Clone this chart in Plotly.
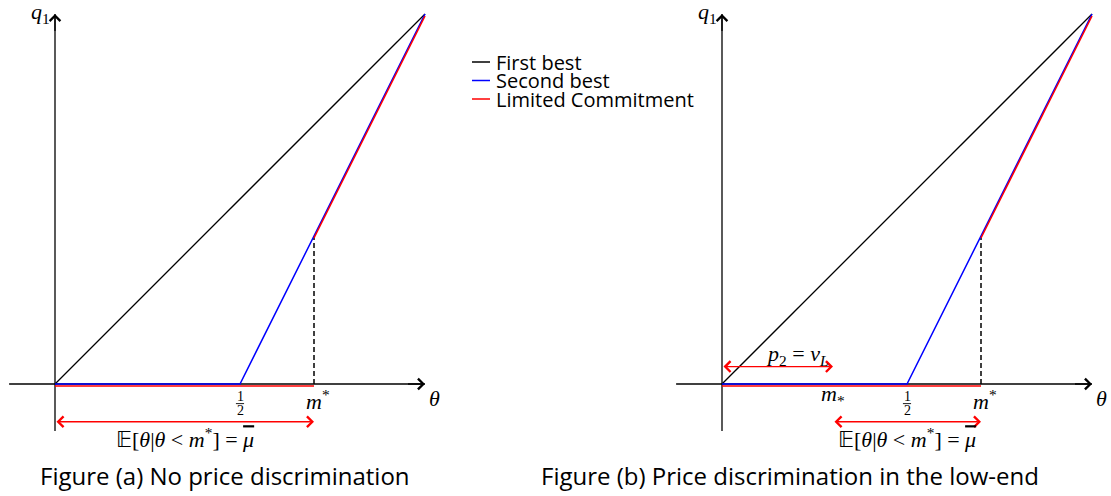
import plotly.graph_objects as go

# ---------------- data ----------------
theta_fb = [0.0, 1.0]
q_fb = [0.0, 1.0]
theta_sb = [0.0, 0.5, 1.0]
q_sb = [0.0, 0.0, 1.0]
theta_lc = [0.0, 0.7, None, 0.7, 1.0]
q_lc = [0.0, 0.0, None, 0.4, 1.0]
half = 0.5
m_star = 0.7        # m^*
m_low = 0.3         # m_*
q_at_mstar = 0.4
arrow_level = -0.102   # E[theta | theta < m*] arrow height
p2_level = 0.047       # p2 = v_L arrow height
series_names = ["First best", "Second best", "Limited Commitment"]
series_colors = ["#000000", "#0000ff", "#ff0000"]
captions = ["Figure (a) No price discrimination", "Figure (b) Price discrimination in the low-end"]

# ---------------- layout geometry ----------------
W, H = 1111, 496
unit = 370.0
ox_a, ox_b, oy = 55.0, 722.0, 384.0
dom_a, dom_b = [0.0, 0.45], [0.55, 1.0]

def xrange_for(dom, ox):
    p0, p1 = dom[0] * W, dom[1] * W
    r0 = -(ox - p0) / unit
    return [r0, r0 + (p1 - p0) / unit]

yr = [-(H - oy) / unit, oy / unit]
shift = 2.0 / unit
yr_red = [yr[0] + shift, yr[1] + shift]

MATH = "Liberation Serif"
SANS = "Open Sans"

fig = go.Figure()

def add_panel(xa, ya, ya_red):
    fig.add_trace(go.Scatter(x=[-0.124, 1.0], y=[0, 0], mode="lines", line=dict(color="black", width=1.3),
                             xaxis=xa, yaxis=ya, showlegend=False, hoverinfo="skip"))
    fig.add_trace(go.Scatter(x=[0, 0], y=[-0.127, 1.0], mode="lines", line=dict(color="black", width=1.3),
                             xaxis=xa, yaxis=ya, showlegend=False, hoverinfo="skip"))
    fig.add_trace(go.Scatter(x=[m_star, m_star], y=[0, q_at_mstar], mode="lines",
                             line=dict(color="black", width=1.5, dash="5px,3px"),
                             xaxis=xa, yaxis=ya, showlegend=False, hoverinfo="skip"))
    fig.add_trace(go.Scatter(x=theta_fb, y=q_fb, mode="lines", name=series_names[0],
                             line=dict(color=series_colors[0], width=1.3), xaxis=xa, yaxis=ya, showlegend=False))
    fig.add_trace(go.Scatter(x=theta_sb, y=q_sb, mode="lines", name=series_names[1],
                             line=dict(color=series_colors[1], width=1.5), xaxis=xa, yaxis=ya, showlegend=False))
    fig.add_trace(go.Scatter(x=theta_lc, y=q_lc, mode="lines", name=series_names[2],
                             line=dict(color=series_colors[2], width=1.5), xaxis=xa, yaxis=ya_red, showlegend=False))

add_panel("x", "y", "y3")
add_panel("x2", "y2", "y4")

ann = []
def arrow(xr, yr_, x0, y0, x1, y1, color, both=False):
    d = dict(x=x1, y=y1, ax=x0, ay=y0, xref=xr, yref=yr_, axref=xr, ayref=yr_, text="",
             showarrow=True, arrowhead=4, arrowsize=1.6, arrowwidth=1.3, arrowcolor=color,
             standoff=0, startstandoff=0)
    if both:
        d.update(arrowside="end+start", startarrowhead=4, startarrowsize=1.6)
    ann.append(d)

def label(xr, yr_, x, y, text, size=22, font=MATH, xanchor="center"):
    ann.append(dict(x=x, y=y, xref=xr, yref=yr_, text=text, showarrow=False, xanchor=xanchor,
                    yanchor="middle", font=dict(family=font, size=size, color="black")))

exp_label = ("𝔼[<i>θ</i>|<i>θ</i> &lt; <i>m</i><sup>*</sup>] = "
             "<span style='text-decoration:overline'><i>μ</i></span>")

for xr, yr_, panel in [("x", "y", "a"), ("x2", "y2", "b")]:
    arrow(xr, yr_, 0.95, 0, 1.0, 0, "black")
    arrow(xr, yr_, 0, 0.95, 0, 1.0, "black")
    label(xr, yr_, 1.027, -0.038, "<i>θ</i>")
    label(xr, yr_, -0.04, 1.003, "<i>q</i><sub>1</sub>")
    label(xr, yr_, m_star + 0.01, -0.043, "<i>m</i><sup>*</sup>")
    label(xr, yr_, half, -0.033, "1", size=14)
    label(xr, yr_, half, -0.072, "2", size=14)
    if panel == "a":
        arrow(xr, yr_, 0.0, arrow_level, m_star, arrow_level, "red", both=True)
        label(xr, yr_, m_star / 2, -0.146, exp_label, size=22)
    else:
        arrow(xr, yr_, m_low, arrow_level, m_star, arrow_level, "red", both=True)
        label(xr, yr_, (m_low + m_star) / 2, -0.146, exp_label, size=22)
        arrow(xr, yr_, 0.0, p2_level, m_low, p2_level, "red", both=True)
        label(xr, yr_, 0.203, 0.078, "<i>p</i><sub>2</sub> = <i>v</i><sub><i>L</i></sub>", size=22)
        label(xr, yr_, m_low, -0.03, "<i>m</i><sub>*</sub>")

for cx, txt in zip([225, 790], captions):
    ann.append(dict(x=cx / W, y=1 - 475 / H, xref="paper", yref="paper", text=txt, showarrow=False,
                    xanchor="center", yanchor="middle", font=dict(family=SANS, size=24, color="black")))

shapes = []
for i, (nm, col) in enumerate(zip(series_names, series_colors)):
    yy = 1 - (62 + 18.5 * i) / H
    shapes.append(dict(type="line", xref="paper", yref="paper", x0=472 / W, x1=490 / W, y0=yy, y1=yy,
                       line=dict(color=col, width=1.5)))
    ann.append(dict(x=494 / W, y=yy, xref="paper", yref="paper", text=nm, showarrow=False,
                    xanchor="left", yanchor="middle", font=dict(family=SANS, size=20, color="black")))

for xr, yr_ in [("x", "y"), ("x2", "y2")]:
    shapes.append(dict(type="line", xref=xr, yref=yr_, x0=half - 0.011, x1=half + 0.011, y0=-0.053, y1=-0.053,
                       line=dict(color="black", width=0.9)))

ax_common = dict(visible=False, showgrid=False, zeroline=False, fixedrange=True)
fig.update_layout(
    width=W, height=H, margin=dict(l=0, r=0, t=0, b=0),
    paper_bgcolor="white", plot_bgcolor="white", showlegend=False,
    xaxis=dict(domain=dom_a, range=xrange_for(dom_a, ox_a), **ax_common),
    xaxis2=dict(domain=dom_b, range=xrange_for(dom_b, ox_b), **ax_common),
    yaxis=dict(domain=[0, 1], range=yr, anchor="x", **ax_common),
    yaxis2=dict(domain=[0, 1], range=yr, anchor="x2", **ax_common),
    yaxis3=dict(domain=[0, 1], range=yr_red, anchor="x", overlaying="y", **ax_common),
    yaxis4=dict(domain=[0, 1], range=yr_red, anchor="x2", overlaying="y2", **ax_common),
    annotations=ann, shapes=shapes,
)

fig.write_html("out.html", config={"displayModeBar": False},
               post_script="document.body.style.margin='0';document.body.style.overflow='hidden';")
